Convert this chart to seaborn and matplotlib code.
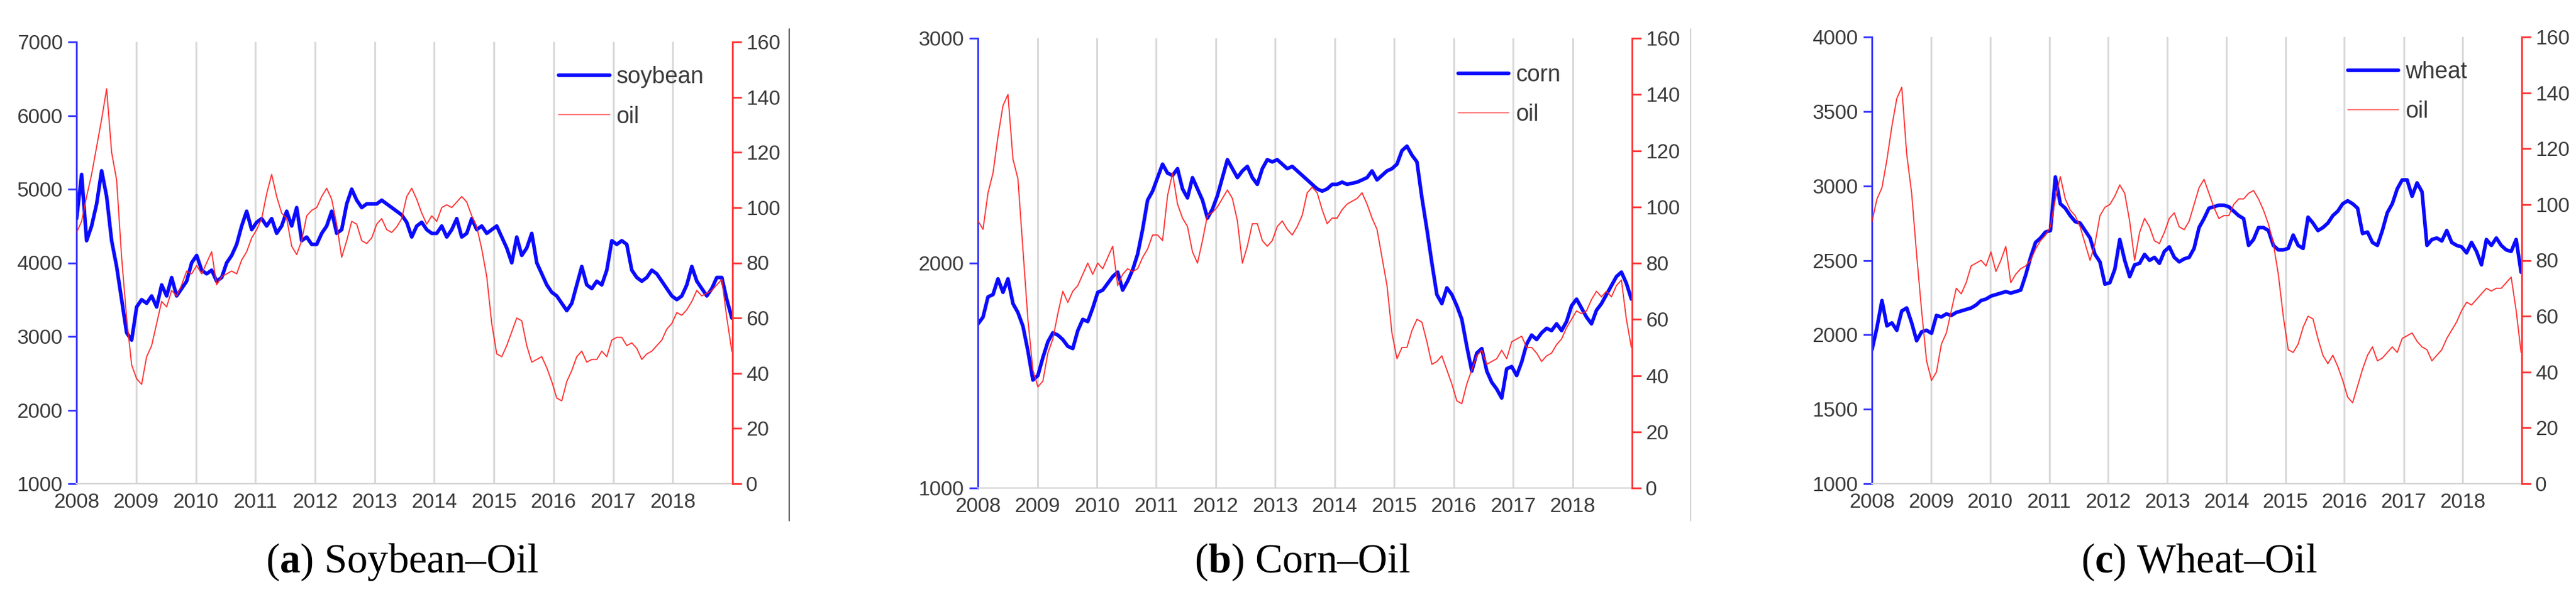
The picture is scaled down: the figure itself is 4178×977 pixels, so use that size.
import numpy as np
import pandas as pd
import matplotlib
matplotlib.use("Agg")
import matplotlib.pyplot as plt
import matplotlib.dates as mdates
from matplotlib.lines import Line2D
import seaborn as sns

# Monthly readings, Jan 2008 .. Dec 2018
soybean = [
    4600, 5200, 4300, 4500, 4800, 5250, 4900, 4300, 3950, 3500, 3050, 2950,
    3400, 3500, 3450, 3550, 3400, 3700, 3550, 3800, 3550, 3650, 3750, 4000,
    4100, 3900, 3850, 3900, 3750, 3800, 4000, 4100, 4250, 4500, 4700, 4450,
    4550, 4600, 4500, 4600, 4400, 4500, 4700, 4500, 4750, 4300, 4350, 4250,
    4250, 4400, 4500, 4700, 4400, 4450, 4800, 5000, 4850, 4750, 4800, 4800,
    4800, 4850, 4800, 4750, 4700, 4650, 4550, 4350, 4500, 4550, 4450, 4400,
    4400, 4500, 4350, 4450, 4600, 4350, 4400, 4600, 4450, 4500, 4400, 4450,
    4500, 4350, 4200, 4000, 4350, 4100, 4200, 4400, 4000, 3850, 3700, 3600,
    3550, 3450, 3350, 3450, 3700, 3950, 3700, 3650, 3750, 3700, 3900, 4300,
    4250, 4300, 4250, 3900, 3800, 3750, 3800, 3900, 3850, 3750, 3650, 3550,
    3500, 3550, 3700, 3950, 3750, 3650, 3550, 3650, 3800, 3800, 3500, 3250,
]
oil_a = [
    91, 95, 104, 112, 122, 132, 143, 120, 110, 82, 60, 43,
    38, 36, 46, 50, 58, 66, 64, 70, 68, 72, 77, 76,
    79, 76, 80, 84, 72, 75, 76, 77, 76, 81, 84, 89,
    92, 96, 105, 112, 104, 98, 96, 86, 83, 88, 97, 99,
    100, 104, 107, 103, 94, 82, 88, 95, 94, 88, 87, 89,
    94, 96, 92, 91, 93, 96, 104, 107, 103, 98, 94, 97,
    95, 100, 101, 100, 102, 104, 102, 97, 93, 85, 75, 58,
    47, 46, 50, 55, 60, 59, 50, 44, 45, 46, 42, 37,
    31, 30, 37, 41, 46, 48, 44, 45, 45, 48, 46, 52,
    53, 53, 50, 51, 49, 45, 47, 48, 50, 52, 56, 58,
    62, 61, 63, 66, 70, 68, 69, 70, 72, 74, 60, 48,
]
corn = [
    1730, 1760, 1850, 1860, 1930, 1870, 1930, 1820, 1780, 1720, 1610, 1480,
    1500, 1580, 1650, 1690, 1680, 1660, 1630, 1620, 1700, 1750, 1740, 1800,
    1870, 1880, 1910, 1940, 1960, 1880, 1920, 1970, 2040, 2150, 2280, 2320,
    2380, 2440, 2400, 2390, 2420, 2330, 2290, 2380, 2330, 2280, 2200, 2240,
    2300, 2380, 2460, 2420, 2380, 2410, 2430, 2380, 2350, 2420, 2460, 2450,
    2460, 2440, 2420, 2430, 2410, 2390, 2370, 2350, 2330, 2320, 2330, 2350,
    2350, 2360, 2350, 2355, 2360, 2370, 2380, 2410, 2370, 2390, 2410, 2420,
    2440, 2500, 2520, 2480, 2450, 2290, 2150, 2000, 1860, 1820, 1890, 1860,
    1810, 1750, 1630, 1520, 1600, 1620, 1520, 1470, 1440, 1400, 1530, 1540,
    1500, 1560, 1640, 1680, 1660, 1690, 1710, 1700, 1730, 1700, 1740, 1810,
    1840, 1800, 1760, 1730, 1790, 1820, 1860, 1900, 1940, 1960, 1910, 1840,
]
oil_b = [
    95, 92, 105, 112, 125, 136, 140, 117, 110, 85, 60, 42,
    36, 38, 48, 53, 62, 70, 66, 70, 72, 76, 80, 76,
    80, 78, 82, 86, 72, 76, 78, 77, 78, 82, 85, 90,
    90, 88, 104, 112, 101, 96, 93, 84, 80, 88, 97, 98,
    100, 103, 106, 103, 95, 80, 86, 94, 94, 88, 86, 88,
    93, 95, 92, 90, 93, 97, 105, 107, 105, 99, 94, 96,
    96, 99, 101, 102, 103, 105, 101, 96, 92, 82, 72, 55,
    46, 50, 50, 56, 60, 59, 52, 44, 45, 47, 42, 37,
    31, 30, 37, 42, 47, 49, 44, 45, 46, 49, 46, 52,
    53, 54, 50, 50, 48, 45, 47, 48, 51, 53, 57, 60,
    63, 62, 63, 67, 70, 68, 70, 68, 72, 74, 60, 50,
]
wheat = [
    1900, 2050, 2230, 2060, 2080, 2030, 2160, 2180, 2080, 1960, 2020, 2030,
    2010, 2130, 2120, 2140, 2130, 2150, 2160, 2170, 2180, 2200, 2230, 2240,
    2260, 2270, 2280, 2290, 2280, 2290, 2300, 2400, 2520, 2620, 2650, 2690,
    2700, 3060, 2880, 2850, 2800, 2760, 2750, 2700, 2650, 2540, 2490, 2340,
    2350, 2440, 2640, 2500, 2390, 2470, 2480, 2540, 2500, 2520, 2480, 2560,
    2590, 2520, 2490, 2510, 2520, 2580, 2720, 2780, 2850, 2860, 2870, 2870,
    2860, 2830, 2800, 2780, 2600, 2640, 2720, 2720, 2700, 2600, 2570, 2570,
    2580, 2670, 2600, 2580, 2790, 2750, 2700, 2720, 2750, 2800, 2830, 2880,
    2900, 2880, 2850, 2680, 2690, 2620, 2600, 2700, 2820, 2880, 2980, 3040,
    3040, 2930, 3020, 2960, 2600, 2640, 2650, 2630, 2700, 2620, 2600, 2590,
    2550, 2620, 2560, 2470, 2640, 2600, 2650, 2600, 2570, 2560, 2640, 2420,
]
oil_c = [
    94, 102, 106, 116, 128, 138, 142, 118, 104, 82, 62, 44,
    37, 40, 50, 54, 62, 70, 68, 72, 78, 79, 80, 78,
    83, 76, 80, 85, 72, 75, 77, 78, 80, 84, 87, 89,
    92, 102, 110, 102, 98, 96, 92, 86, 80, 86, 96, 99,
    100, 103, 107, 104, 94, 80, 90, 95, 92, 87, 86, 90,
    95, 97, 92, 91, 94, 100, 106, 109, 104, 99, 95, 96,
    96, 100, 102, 102, 104, 105, 102, 98, 93, 86, 75, 60,
    48, 47, 50, 56, 60, 59, 52, 46, 43, 46, 42, 37,
    31, 29, 35, 41, 46, 49, 44, 45, 47, 49, 47, 52,
    53, 54, 51, 49, 48, 44, 46, 48, 52, 55, 58, 62,
    65, 64, 66, 68, 70, 69, 70, 70, 72, 74, 62, 47,
]

grain_names = ["soybean", "corn", "wheat"]
captions = [r"($\mathbf{a}$) Soybean–Oil", r"($\mathbf{b}$) Corn–Oil", r"($\mathbf{c}$) Wheat–Oil"]
left_ticks = [list(range(1000, 7001, 1000)), [1000, 2000, 3000], list(range(1000, 4001, 500))]
oil_ticks = list(range(0, 161, 20))

dates = pd.date_range("2008-01-02", "2018-12-28", periods=132)
year_ticks = pd.date_range("2008-01-01", "2018-01-01", freq="YS")

W, H = 4178, 977


def rect(x0, x1, y_top, y_bot):
    return [x0 / W, 1 - y_bot / H, (x1 - x0) / W, (y_bot - y_top) / H]


panels = [
    dict(grain=soybean, oil=oil_a, rect=rect(124, 1188, 68, 785), leg=(0.735, 0.945), cx=652),
    dict(grain=corn, oil=oil_b, rect=rect(1586, 2647, 62, 792), leg=(0.734, 0.942), cx=2112),
    dict(grain=wheat, oil=oil_c, rect=rect(3036, 4090, 60, 785), leg=(0.732, 0.946), cx=3567),
]

sns.set_theme(style="white")
plt.rcParams["font.family"] = ["Liberation Sans", "DejaVu Sans"]
plt.rcParams["mathtext.fontset"] = "custom"
plt.rcParams["mathtext.rm"] = "Liberation Serif"
plt.rcParams["mathtext.bf"] = "Liberation Serif:bold"

fig = plt.figure(figsize=(W / 100, H / 100), dpi=100)

BLUE = "#0a0aff"
RED = "#ff1f1f"
LABEL = "#3a3a3a"

for i, p in enumerate(panels):
    ax = fig.add_axes(p["rect"])
    ax2 = ax.twinx()
    df = pd.DataFrame({"date": dates, "grain": p["grain"], "oil": p["oil"]})

    sns.lineplot(data=df, x="date", y="grain", ax=ax, color=BLUE, lw=4.2)
    sns.lineplot(data=df, x="date", y="oil", ax=ax2, color=RED, lw=1.4, alpha=0.9)

    ax.set_xlim(pd.Timestamp("2008-01-01"), pd.Timestamp("2019-01-01"))
    ax.set_xticks(year_ticks)
    ax.xaxis.set_major_formatter(mdates.DateFormatter("%Y"))
    ax.set_ylim(left_ticks[i][0], left_ticks[i][-1])
    ax.set_yticks(left_ticks[i])
    ax2.set_ylim(0, 160)
    ax2.set_yticks(oil_ticks)

    ax.grid(axis="x", color="#d9d9d9", lw=2.2)
    ax.grid(axis="y", visible=False)
    ax2.grid(False)

    for s in ["top", "right"]:
        ax.spines[s].set_visible(False)
    ax.spines["left"].set_color("#3030ff")
    ax.spines["left"].set_linewidth(2)
    ax.spines["bottom"].set_color("#d4d4d4")
    ax.spines["bottom"].set_linewidth(1.6)
    for s in ["top", "left", "bottom"]:
        ax2.spines[s].set_visible(False)
    ax2.spines["right"].set_color("#ff3030")
    ax2.spines["right"].set_linewidth(2)

    ax.tick_params(axis="y", left=True, direction="out", length=10, width=2,
                   color="#3030ff", labelcolor=LABEL, labelsize=24, pad=6)
    ax.tick_params(axis="x", bottom=False, length=0, labelcolor=LABEL, labelsize=24, pad=11)
    ax2.tick_params(axis="y", right=True, direction="out", length=11, width=2,
                    color="#ff3030", labelcolor=LABEL, labelsize=24, pad=5)
    ax.set_xlabel("")
    ax.set_ylabel("")
    ax2.set_ylabel("")

    handles = [Line2D([], [], color=BLUE, lw=4.2), Line2D([], [], color="#ff7070", lw=1.4)]
    ax2.legend(handles, [grain_names[i], "oil"], loc="upper left", bbox_to_anchor=p["leg"],
               frameon=False, fontsize=27, handlelength=2.2, handletextpad=0.3,
               labelspacing=0.75, borderpad=0, borderaxespad=0, labelcolor=LABEL)

    fig.text(p["cx"] / W, 1 - 912 / H, captions[i], ha="center", va="center",
             fontsize=48, family="Liberation Serif", color="black")

# frame edges left over from the original layout
fig.add_artist(Line2D([1280 / W] * 2, [1 - 47 / H, 1 - 845 / H], color="#555555", lw=1.5,
                      transform=fig.transFigure))
fig.add_artist(Line2D([2742 / W] * 2, [1 - 47 / H, 1 - 845 / H], color="#d0d0d0", lw=1.5,
                      transform=fig.transFigure))

fig.savefig("out.png", dpi=100)
